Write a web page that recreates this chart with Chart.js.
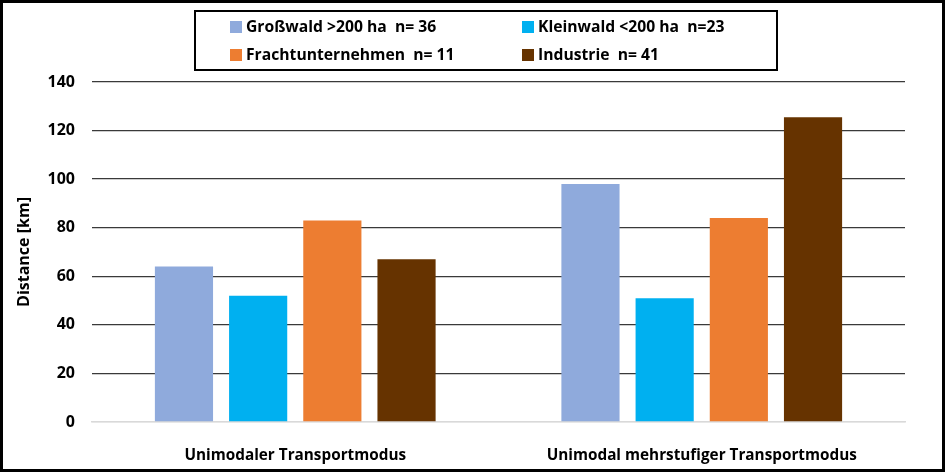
<!DOCTYPE html>
<html>
<head>
<meta charset="utf-8">
<script src="https://cdn.jsdelivr.net/npm/chart.js@4/dist/chart.umd.min.js"></script>
<style>
  body { margin: 0; background: #fff; }
  #wrap { width: 945px; height: 472px; box-sizing: border-box; border: 3px solid #000; position: relative; }
  canvas { display: block; }
</style>
</head>
<body>
<div id="wrap"><canvas id="chart"></canvas></div>
<script>
// Data
var categories = ['Unimodaler Transportmodus', 'Unimodal mehrstufiger Transportmodus'];
var seriesNames = ['Großwald >200 ha  n= 36', 'Kleinwald <200 ha  n=23', 'Frachtunternehmen  n= 11', 'Industrie  n= 41'];
var grosswald = [64, 98];
var kleinwald = [52, 51];
var fracht = [83, 84];
var industrie = [67, 125.5];
var yTicks = [0, 20, 40, 60, 80, 100, 120, 140];

var colors = ['#8FAADC', '#00B0F0', '#ED7D31', '#663300'];
var fontFamily = "'Open Sans', 'Liberation Sans', sans-serif";

// legend drawn as a boxed two-column block like the original
var boxLegend = {
  id: 'boxLegend',
  afterDraw: function (chart) {
    var ctx = chart.ctx;
    ctx.save();
    ctx.strokeStyle = '#000';
    ctx.lineWidth = 2;
    ctx.strokeRect(192, 8, 582, 59);
    ctx.font = 'bold 15.7px ' + fontFamily;
    ctx.textBaseline = 'middle';
    ctx.fillStyle = '#000';
    var cols = [227, 519];
    var rows = [24, 52];
    chart.data.datasets.forEach(function (ds, i) {
      var x = cols[i % 2], y = rows[Math.floor(i / 2)];
      ctx.fillStyle = ds.backgroundColor;
      ctx.fillRect(x, y - 6, 12, 12);
      ctx.fillStyle = '#000';
      ctx.fillText(ds.label, x + 16, y + 1);
    });
    ctx.restore();
  }
};

var ctx = document.getElementById('chart').getContext('2d');
var data = {
  labels: categories,
  datasets: [grosswald, kleinwald, fracht, industrie].map(function (vals, i) {
    return {
      label: seriesNames[i],
      data: vals,
      backgroundColor: colors[i],
      categoryPercentage: 0.73,
      barPercentage: 0.784
    };
  })
};

var chart = new Chart(ctx, {
  type: 'bar',
  data: data,
  plugins: [boxLegend],
  options: {
    responsive: true,
    maintainAspectRatio: false,
    animation: false,
    layout: { padding: { top: 79, right: 37, left: 0, bottom: 0 } },
    plugins: {
      legend: { display: false },
      tooltip: { enabled: false }
    },
    scales: {
      x: {
        grid: { display: false },
        border: { display: true, color: '#d9d9d9', width: 1.5 },
        ticks: { color: '#000', padding: 16, font: { family: fontFamily, size: 15.3, weight: 'bold' } },
        afterFit: function (s) { s.height = 47; }
      },
      y: {
        min: 0,
        max: 140,
        afterBuildTicks: function (s) { s.ticks = yTicks.map(function (v) { return { value: v }; }); },
        grid: {
          drawTicks: false,
          color: function (c) { return c.tick && c.tick.value === 0 ? '#d9d9d9' : '#3a3a3a'; },
          lineWidth: 1.3
        },
        border: { display: false },
        ticks: { color: '#000', padding: 17, font: { family: fontFamily, size: 16, weight: 'bold' } },
        title: {
          display: true,
          text: 'Distance [km]',
          color: '#000',
          padding: { top: 12, bottom: 0 },
          font: { family: fontFamily, size: 16, weight: 'bold' }
        },
        afterFit: function (s) { s.width = 89; }
      }
    }
  }
});
</script>
</body>
</html>
